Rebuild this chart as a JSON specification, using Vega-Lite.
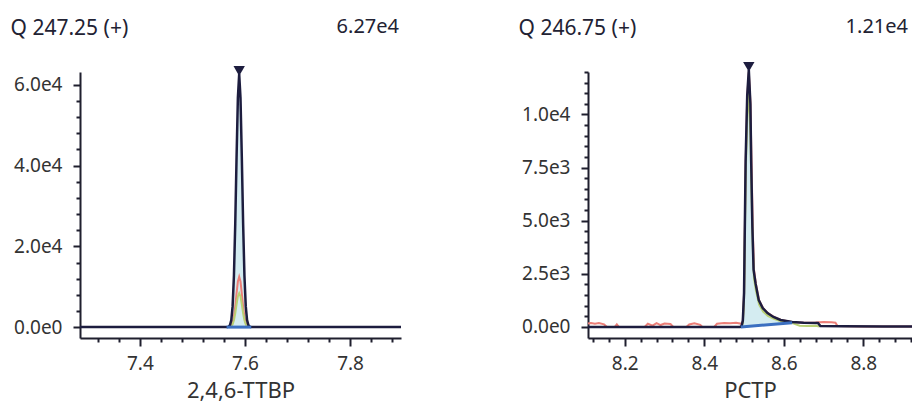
{
  "$schema": "https://vega.github.io/schema/vega-lite/v6.json",
  "background": "white",
  "padding": {"left": 10, "top": 17, "right": 0, "bottom": 6},
  "spacing": 112,
  "datasets": {
    "L": [
      {"x": 7.286, "y": 0, "s": "sig"}, {"x": 7.4, "y": 0, "s": "sig"}, {"x": 7.5, "y": 0, "s": "sig"}, {"x": 7.562, "y": 0, "s": "sig"},
      {"x": 7.5665, "y": 20, "s": "sig"}, {"x": 7.569, "y": 107, "s": "sig"}, {"x": 7.5715, "y": 475, "s": "sig"}, {"x": 7.574, "y": 1737, "s": "sig"},
      {"x": 7.5765, "y": 5190, "s": "sig"}, {"x": 7.579, "y": 12730, "s": "sig"}, {"x": 7.5815, "y": 25580, "s": "sig"}, {"x": 7.584, "y": 42080, "s": "sig"},
      {"x": 7.5865, "y": 56750, "s": "sig"}, {"x": 7.589, "y": 62700, "s": "sig"}, {"x": 7.5915, "y": 56750, "s": "sig"}, {"x": 7.594, "y": 42080, "s": "sig"},
      {"x": 7.5965, "y": 25580, "s": "sig"}, {"x": 7.599, "y": 12730, "s": "sig"}, {"x": 7.6015, "y": 5190, "s": "sig"}, {"x": 7.604, "y": 1737, "s": "sig"},
      {"x": 7.6065, "y": 475, "s": "sig"}, {"x": 7.609, "y": 107, "s": "sig"}, {"x": 7.6115, "y": 20, "s": "sig"}, {"x": 7.616, "y": 0, "s": "sig"},
      {"x": 7.7, "y": 0, "s": "sig"}, {"x": 7.8, "y": 0, "s": "sig"}, {"x": 7.897, "y": 0, "s": "sig"},
      {"x": 7.5665, "y": 0, "s": "q1"}, {"x": 7.569, "y": 20, "s": "q1"}, {"x": 7.5715, "y": 95, "s": "q1"}, {"x": 7.574, "y": 345, "s": "q1"},
      {"x": 7.5765, "y": 1030, "s": "q1"}, {"x": 7.579, "y": 2530, "s": "q1"}, {"x": 7.5815, "y": 5090, "s": "q1"}, {"x": 7.584, "y": 8370, "s": "q1"},
      {"x": 7.5865, "y": 11290, "s": "q1"}, {"x": 7.589, "y": 12470, "s": "q1"}, {"x": 7.5915, "y": 11290, "s": "q1"}, {"x": 7.594, "y": 8370, "s": "q1"},
      {"x": 7.5965, "y": 5090, "s": "q1"}, {"x": 7.599, "y": 2530, "s": "q1"}, {"x": 7.6015, "y": 1030, "s": "q1"}, {"x": 7.604, "y": 345, "s": "q1"},
      {"x": 7.6065, "y": 95, "s": "q1"}, {"x": 7.609, "y": 20, "s": "q1"}, {"x": 7.6115, "y": 0, "s": "q1"},
      {"x": 7.569, "y": 0, "s": "q2"}, {"x": 7.5715, "y": 60, "s": "q2"}, {"x": 7.574, "y": 230, "s": "q2"}, {"x": 7.5765, "y": 700, "s": "q2"},
      {"x": 7.579, "y": 1700, "s": "q2"}, {"x": 7.5815, "y": 3430, "s": "q2"}, {"x": 7.584, "y": 5640, "s": "q2"}, {"x": 7.5865, "y": 7600, "s": "q2"},
      {"x": 7.589, "y": 8400, "s": "q2"}, {"x": 7.5915, "y": 7600, "s": "q2"}, {"x": 7.594, "y": 5640, "s": "q2"}, {"x": 7.5965, "y": 3430, "s": "q2"},
      {"x": 7.599, "y": 1700, "s": "q2"}, {"x": 7.6015, "y": 700, "s": "q2"}, {"x": 7.604, "y": 230, "s": "q2"}, {"x": 7.6065, "y": 60, "s": "q2"},
      {"x": 7.609, "y": 0, "s": "q2"},
      {"x": 7.565, "y": 0, "s": "base"}, {"x": 7.612, "y": 0, "s": "base"},
      {"x": 7.589, "y": 62700, "s": "apex"}
    ],
    "LF": [
      {"x": 7.565, "y": 0, "b": 0}, {"x": 7.5665, "y": 20, "b": 0}, {"x": 7.569, "y": 107, "b": 0}, {"x": 7.5715, "y": 475, "b": 0},
      {"x": 7.574, "y": 1737, "b": 0}, {"x": 7.5765, "y": 5190, "b": 0}, {"x": 7.579, "y": 12730, "b": 0}, {"x": 7.5815, "y": 25580, "b": 0},
      {"x": 7.584, "y": 42080, "b": 0}, {"x": 7.5865, "y": 56750, "b": 0}, {"x": 7.589, "y": 62700, "b": 0}, {"x": 7.5915, "y": 56750, "b": 0},
      {"x": 7.594, "y": 42080, "b": 0}, {"x": 7.5965, "y": 25580, "b": 0}, {"x": 7.599, "y": 12730, "b": 0}, {"x": 7.6015, "y": 5190, "b": 0},
      {"x": 7.604, "y": 1737, "b": 0}, {"x": 7.6065, "y": 475, "b": 0}, {"x": 7.609, "y": 107, "b": 0}, {"x": 7.6115, "y": 20, "b": 0},
      {"x": 7.612, "y": 0, "b": 0}
    ],
    "R": [
      {"x": 8.1075, "y": 0, "s": "sig"}, {"x": 8.2, "y": 0, "s": "sig"}, {"x": 8.3, "y": 0, "s": "sig"}, {"x": 8.4, "y": 0, "s": "sig"},
      {"x": 8.49, "y": 0, "s": "sig"}, {"x": 8.494, "y": 50, "s": "sig"}, {"x": 8.497, "y": 300, "s": "sig"}, {"x": 8.5, "y": 1600, "s": "sig"},
      {"x": 8.504, "y": 7800, "s": "sig"}, {"x": 8.508, "y": 10900, "s": "sig"}, {"x": 8.512, "y": 12100, "s": "sig"}, {"x": 8.516, "y": 10500, "s": "sig"},
      {"x": 8.518, "y": 7800, "s": "sig"}, {"x": 8.521, "y": 4700, "s": "sig"}, {"x": 8.524, "y": 2700, "s": "sig"}, {"x": 8.529, "y": 2050, "s": "sig"},
      {"x": 8.537, "y": 1260, "s": "sig"}, {"x": 8.547, "y": 890, "s": "sig"}, {"x": 8.559, "y": 650, "s": "sig"}, {"x": 8.574, "y": 470, "s": "sig"},
      {"x": 8.592, "y": 330, "s": "sig"}, {"x": 8.621, "y": 230, "s": "sig"}, {"x": 8.65, "y": 200, "s": "sig"}, {"x": 8.686, "y": 190, "s": "sig"},
      {"x": 8.692, "y": 40, "s": "sig"}, {"x": 8.75, "y": 30, "s": "sig"}, {"x": 8.85, "y": 20, "s": "sig"}, {"x": 8.9225, "y": 20, "s": "sig"},
      {"x": 8.1075, "y": 160, "s": "q1"}, {"x": 8.115, "y": 190, "s": "q1"}, {"x": 8.125, "y": 150, "s": "q1"}, {"x": 8.135, "y": 180, "s": "q1"},
      {"x": 8.148, "y": 120, "s": "q1"}, {"x": 8.155, "y": 0, "s": "q1"}, {"x": 8.175, "y": 0, "s": "q1"}, {"x": 8.18, "y": 120, "s": "q1"},
      {"x": 8.185, "y": 0, "s": "q1"}, {"x": 8.25, "y": 0, "s": "q1"}, {"x": 8.258, "y": 150, "s": "q1"}, {"x": 8.27, "y": 60, "s": "q1"},
      {"x": 8.28, "y": 180, "s": "q1"}, {"x": 8.29, "y": 90, "s": "q1"}, {"x": 8.3, "y": 160, "s": "q1"}, {"x": 8.315, "y": 140, "s": "q1"},
      {"x": 8.322, "y": 0, "s": "q1"}, {"x": 8.355, "y": 0, "s": "q1"}, {"x": 8.362, "y": 120, "s": "q1"}, {"x": 8.375, "y": 170, "s": "q1"},
      {"x": 8.39, "y": 100, "s": "q1"}, {"x": 8.395, "y": 0, "s": "q1"}, {"x": 8.425, "y": 0, "s": "q1"}, {"x": 8.432, "y": 150, "s": "q1"},
      {"x": 8.45, "y": 190, "s": "q1"}, {"x": 8.465, "y": 170, "s": "q1"}, {"x": 8.48, "y": 200, "s": "q1"}, {"x": 8.494, "y": 150, "s": "q1"},
      {"x": 8.497, "y": 300, "s": "q1"}, {"x": 8.5, "y": 1500, "s": "q1"}, {"x": 8.504, "y": 7600, "s": "q1"}, {"x": 8.508, "y": 10800, "s": "q1"},
      {"x": 8.512, "y": 12000, "s": "q1"}, {"x": 8.516, "y": 10600, "s": "q1"}, {"x": 8.519, "y": 7600, "s": "q1"}, {"x": 8.522, "y": 4600, "s": "q1"},
      {"x": 8.525, "y": 2700, "s": "q1"}, {"x": 8.53, "y": 2000, "s": "q1"}, {"x": 8.538, "y": 1250, "s": "q1"}, {"x": 8.548, "y": 880, "s": "q1"},
      {"x": 8.56, "y": 650, "s": "q1"}, {"x": 8.575, "y": 470, "s": "q1"}, {"x": 8.593, "y": 330, "s": "q1"}, {"x": 8.62, "y": 230, "s": "q1"},
      {"x": 8.65, "y": 200, "s": "q1"}, {"x": 8.68, "y": 210, "s": "q1"}, {"x": 8.7, "y": 230, "s": "q1"}, {"x": 8.72, "y": 220, "s": "q1"},
      {"x": 8.73, "y": 200, "s": "q1"}, {"x": 8.735, "y": 40, "s": "q1"}, {"x": 8.8, "y": 20, "s": "q1"}, {"x": 8.9225, "y": 20, "s": "q1"},
      {"x": 8.494, "y": 0, "s": "q2"}, {"x": 8.497, "y": 200, "s": "q2"}, {"x": 8.5, "y": 1300, "s": "q2"}, {"x": 8.504, "y": 7000, "s": "q2"},
      {"x": 8.508, "y": 10000, "s": "q2"}, {"x": 8.512, "y": 11000, "s": "q2"}, {"x": 8.516, "y": 9000, "s": "q2"}, {"x": 8.519, "y": 6200, "s": "q2"},
      {"x": 8.522, "y": 3800, "s": "q2"}, {"x": 8.525, "y": 2300, "s": "q2"}, {"x": 8.53, "y": 1700, "s": "q2"}, {"x": 8.538, "y": 1050, "s": "q2"},
      {"x": 8.548, "y": 720, "s": "q2"}, {"x": 8.56, "y": 520, "s": "q2"}, {"x": 8.575, "y": 380, "s": "q2"}, {"x": 8.593, "y": 270, "s": "q2"},
      {"x": 8.62, "y": 190, "s": "q2"}, {"x": 8.64, "y": 60, "s": "q2"}, {"x": 8.66, "y": 50, "s": "q2"}, {"x": 8.68, "y": 60, "s": "q2"},
      {"x": 8.69, "y": 20, "s": "q2"},
      {"x": 8.492, "y": 0, "s": "base"}, {"x": 8.621, "y": 200, "s": "base"},
      {"x": 8.512, "y": 12100, "s": "apex"}
    ],
    "RF": [
      {"x": 8.492, "y": 0, "b": 0}, {"x": 8.494, "y": 50, "b": 3}, {"x": 8.497, "y": 300, "b": 8}, {"x": 8.5, "y": 1600, "b": 12},
      {"x": 8.504, "y": 7800, "b": 19}, {"x": 8.508, "y": 10900, "b": 25}, {"x": 8.512, "y": 12100, "b": 31}, {"x": 8.516, "y": 10500, "b": 37},
      {"x": 8.518, "y": 7800, "b": 40}, {"x": 8.521, "y": 4700, "b": 45}, {"x": 8.524, "y": 2700, "b": 50}, {"x": 8.529, "y": 2050, "b": 57},
      {"x": 8.537, "y": 1260, "b": 70}, {"x": 8.547, "y": 890, "b": 85}, {"x": 8.559, "y": 650, "b": 104}, {"x": 8.574, "y": 470, "b": 127},
      {"x": 8.592, "y": 330, "b": 155}, {"x": 8.621, "y": 230, "b": 200}
    ]
  },
  "hconcat": [
    {
      "width": 321,
      "height": 266,
      "title": {"text": "Q 247.25 (+)", "anchor": "start", "frame": "bounds", "offset": -22, "dx": -3},
      "layer": [
        {
          "encoding": {
            "x": {
              "field": "x", "type": "quantitative",
              "scale": {"domain": [7.286, 7.897], "nice": false, "zero": false},
              "axis": {
                "title": "2,4,6-TTBP",
                "values": [7.32, 7.36, 7.4, 7.44, 7.48, 7.52, 7.56, 7.6, 7.64, 7.68, 7.72, 7.76, 7.8, 7.84, 7.88],
                "labelExpr": "abs(datum.value * 5 - round(datum.value * 5)) < 0.001 ? format(datum.value, '.1f') : ''",
                "tickSize": {"condition": {"test": "abs(datum.value * 5 - round(datum.value * 5)) < 0.001", "value": 8}, "value": 4},
                "labelPadding": 8,
                "titlePadding": 7
              }
            },
            "y": {
              "field": "y", "type": "quantitative",
              "scale": {"domain": [-2700, 63200], "nice": false, "zero": false},
              "axis": {
                "title": null,
                "values": [0, 4000, 8000, 12000, 16000, 20000, 24000, 28000, 32000, 36000, 40000, 44000, 48000, 52000, 56000, 60000],
                "labelExpr": "datum.value % 20000 === 0 ? replace(format(datum.value, '.1e'), '+', '') : ''",
                "tickSize": {"condition": {"test": "datum.value % 20000 === 0", "value": 7}, "value": 4},
                "labelPadding": 11
              }
            }
          },
          "layer": [
            {"data": {"name": "LF"}, "mark": {"type": "area", "color": "#d4ecf1", "opacity": 1}, "encoding": {"y2": {"field": "b"}}},
            {"data": {"name": "L"}, "transform": [{"filter": "datum.s === 'q1'"}], "mark": {"type": "line", "color": "#ec7f78", "strokeWidth": 2}},
            {"data": {"name": "L"}, "transform": [{"filter": "datum.s === 'q2'"}], "mark": {"type": "line", "color": "#b9d074", "strokeWidth": 2}},
            {"data": {"name": "L"}, "transform": [{"filter": "datum.s === 'sig'"}], "mark": {"type": "line", "color": "#1d1d3f", "strokeWidth": 2.5}},
            {"data": {"name": "L"}, "transform": [{"filter": "datum.s === 'base'"}], "mark": {"type": "line", "color": "#3b6fc0", "strokeWidth": 3}},
            {"data": {"name": "L"}, "transform": [{"filter": "datum.s === 'apex'"}], "mark": {"type": "point", "shape": "triangle-down", "filled": true, "color": "#1d1d3f", "opacity": 1, "size": 130, "yOffset": -3}}
          ]
        },
        {
          "data": {"values": [{"label": "6.27e4"}]},
          "mark": {"type": "text", "align": "right", "baseline": "middle", "dy": -45, "dx": -2, "fontSize": 20, "font": "Noto Sans", "color": "#222233"},
          "encoding": {
            "x": {
              "datum": 7.897, "type": "quantitative",
              "scale": {"domain": [7.286, 7.897], "nice": false, "zero": false},
              "axis": {
                "title": "2,4,6-TTBP",
                "values": [7.32, 7.36, 7.4, 7.44, 7.48, 7.52, 7.56, 7.6, 7.64, 7.68, 7.72, 7.76, 7.8, 7.84, 7.88],
                "labelExpr": "abs(datum.value * 5 - round(datum.value * 5)) < 0.001 ? format(datum.value, '.1f') : ''",
                "tickSize": {"condition": {"test": "abs(datum.value * 5 - round(datum.value * 5)) < 0.001", "value": 8}, "value": 4},
                "labelPadding": 8,
                "titlePadding": 7
              }
            },
            "y": {
              "datum": 63200, "type": "quantitative",
              "scale": {"domain": [-2700, 63200], "nice": false, "zero": false},
              "axis": {
                "title": null,
                "values": [0, 4000, 8000, 12000, 16000, 20000, 24000, 28000, 32000, 36000, 40000, 44000, 48000, 52000, 56000, 60000],
                "labelExpr": "datum.value % 20000 === 0 ? replace(format(datum.value, '.1e'), '+', '') : ''",
                "tickSize": {"condition": {"test": "datum.value % 20000 === 0", "value": 7}, "value": 4},
                "labelPadding": 11
              }
            },
            "text": {"field": "label"}
          }
        }
      ]
    },
    {
      "width": 324,
      "height": 266,
      "title": {"text": "Q 246.75 (+)", "anchor": "start", "frame": "bounds", "offset": -22, "dx": -3},
      "layer": [
        {
          "encoding": {
            "x": {
              "field": "x", "type": "quantitative",
              "scale": {"domain": [8.1075, 8.9225], "nice": false, "zero": false},
              "axis": {
                "title": "PCTP",
                "values": [8.12, 8.16, 8.2, 8.24, 8.28, 8.32, 8.36, 8.4, 8.44, 8.48, 8.52, 8.56, 8.6, 8.64, 8.68, 8.72, 8.76, 8.8, 8.84, 8.88, 8.92],
                "labelExpr": "abs(datum.value * 5 - round(datum.value * 5)) < 0.001 ? format(datum.value, '.1f') : ''",
                "tickSize": {"condition": {"test": "abs(datum.value * 5 - round(datum.value * 5)) < 0.001", "value": 8}, "value": 4},
                "labelPadding": 8,
                "titlePadding": 7
              }
            },
            "y": {
              "field": "y", "type": "quantitative",
              "scale": {"domain": [-520, 12000], "nice": false, "zero": false},
              "axis": {
                "title": null,
                "values": [0, 500, 1000, 1500, 2000, 2500, 3000, 3500, 4000, 4500, 5000, 5500, 6000, 6500, 7000, 7500, 8000, 8500, 9000, 9500, 10000, 10500, 11000, 11500, 12000],
                "labelExpr": "datum.value % 2500 === 0 ? replace(format(datum.value, '.1e'), '+', '') : ''",
                "tickSize": {"condition": {"test": "datum.value % 2500 === 0", "value": 7}, "value": 4},
                "labelPadding": 11
              }
            }
          },
          "layer": [
            {"data": {"name": "RF"}, "mark": {"type": "area", "color": "#d4ecf1", "opacity": 1}, "encoding": {"y2": {"field": "b"}}},
            {"data": {"name": "R"}, "transform": [{"filter": "datum.s === 'q1'"}], "mark": {"type": "line", "color": "#ec7f78", "strokeWidth": 2}},
            {"data": {"name": "R"}, "transform": [{"filter": "datum.s === 'q2'"}], "mark": {"type": "line", "color": "#b9d074", "strokeWidth": 2}},
            {"data": {"name": "R"}, "transform": [{"filter": "datum.s === 'sig'"}], "mark": {"type": "line", "color": "#1d1d3f", "strokeWidth": 2.5}},
            {"data": {"name": "R"}, "transform": [{"filter": "datum.s === 'base'"}], "mark": {"type": "line", "color": "#3b6fc0", "strokeWidth": 3}},
            {"data": {"name": "R"}, "transform": [{"filter": "datum.s === 'apex'"}], "mark": {"type": "point", "shape": "triangle-down", "filled": true, "color": "#1d1d3f", "opacity": 1, "size": 130, "yOffset": -3}}
          ]
        },
        {
          "data": {"values": [{"label": "1.21e4"}]},
          "mark": {"type": "text", "align": "right", "baseline": "middle", "dy": -45, "dx": -4, "fontSize": 20, "font": "Noto Sans", "color": "#222233"},
          "encoding": {
            "x": {
              "datum": 8.9225, "type": "quantitative",
              "scale": {"domain": [8.1075, 8.9225], "nice": false, "zero": false},
              "axis": {
                "title": "PCTP",
                "values": [8.12, 8.16, 8.2, 8.24, 8.28, 8.32, 8.36, 8.4, 8.44, 8.48, 8.52, 8.56, 8.6, 8.64, 8.68, 8.72, 8.76, 8.8, 8.84, 8.88, 8.92],
                "labelExpr": "abs(datum.value * 5 - round(datum.value * 5)) < 0.001 ? format(datum.value, '.1f') : ''",
                "tickSize": {"condition": {"test": "abs(datum.value * 5 - round(datum.value * 5)) < 0.001", "value": 8}, "value": 4},
                "labelPadding": 8,
                "titlePadding": 7
              }
            },
            "y": {
              "datum": 12000, "type": "quantitative",
              "scale": {"domain": [-520, 12000], "nice": false, "zero": false},
              "axis": {
                "title": null,
                "values": [0, 500, 1000, 1500, 2000, 2500, 3000, 3500, 4000, 4500, 5000, 5500, 6000, 6500, 7000, 7500, 8000, 8500, 9000, 9500, 10000, 10500, 11000, 11500, 12000],
                "labelExpr": "datum.value % 2500 === 0 ? replace(format(datum.value, '.1e'), '+', '') : ''",
                "tickSize": {"condition": {"test": "datum.value % 2500 === 0", "value": 7}, "value": 4},
                "labelPadding": 11
              }
            },
            "text": {"field": "label"}
          }
        }
      ]
    }
  ],
  "config": {
    "view": {"stroke": null},
    "font": "Noto Sans",
    "axis": {
      "domainColor": "#1f1f2e", "domainWidth": 2, "tickColor": "#1f1f2e", "tickWidth": 2,
      "labelFont": "Noto Sans", "labelFontSize": 19, "labelColor": "#333333",
      "titleFont": "Noto Sans", "titleFontSize": 22, "titleFontWeight": "normal", "titleColor": "#333333",
      "grid": false, "labelFlush": false, "labelOverlap": false
    },
    "title": {"font": "Noto Sans", "fontSize": 21, "fontWeight": "normal", "color": "#222233"}
  }
}
